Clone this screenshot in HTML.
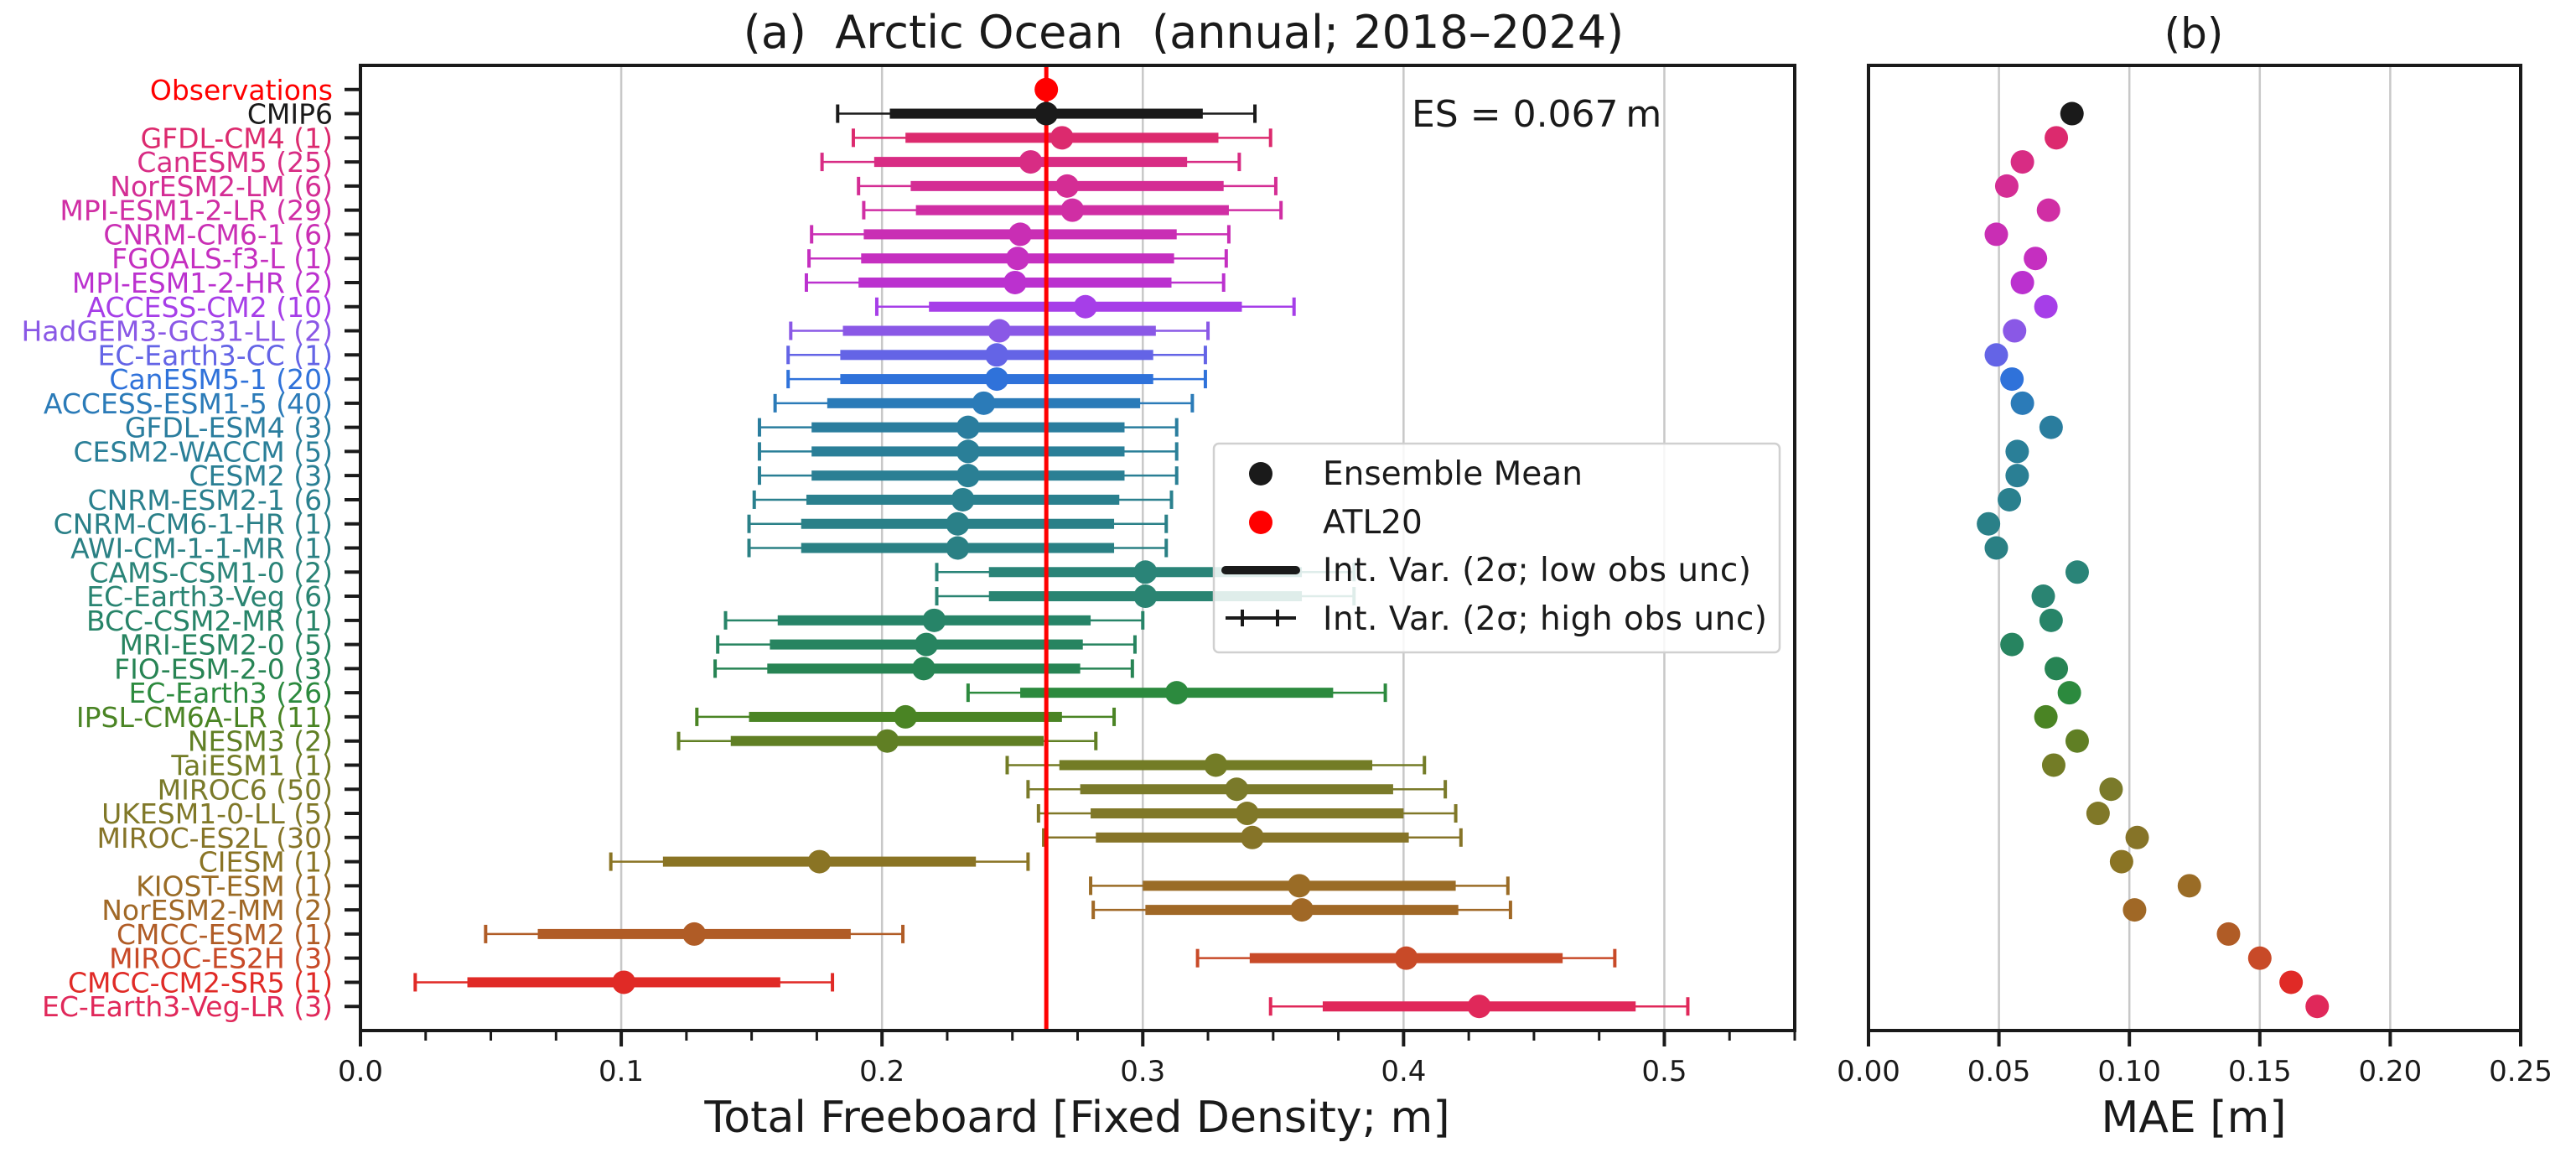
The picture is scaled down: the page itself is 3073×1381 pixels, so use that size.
<!DOCTYPE html>
<html><head><meta charset="utf-8"><style>
html,body{margin:0;padding:0;background:#fff;}
svg{display:block;font-family:"DejaVu Sans","Liberation Sans",sans-serif;}
</style></head><body>
<svg id="chart" width="3073" height="1381" viewBox="0 0 3073 1381" xmlns="http://www.w3.org/2000/svg">
<rect width="3073" height="1381" fill="#fff"/>
<g id="gA"></g>
<g id="gB"></g>
</svg>
<script>
const labels = ["Observations","CMIP6","GFDL-CM4 (1)","CanESM5 (25)","NorESM2-LM (6)","MPI-ESM1-2-LR (29)","CNRM-CM6-1 (6)","FGOALS-f3-L (1)","MPI-ESM1-2-HR (2)","ACCESS-CM2 (10)","HadGEM3-GC31-LL (2)","EC-Earth3-CC (1)","CanESM5-1 (20)","ACCESS-ESM1-5 (40)","GFDL-ESM4 (3)","CESM2-WACCM (5)","CESM2 (3)","CNRM-ESM2-1 (6)","CNRM-CM6-1-HR (1)","AWI-CM-1-1-MR (1)","CAMS-CSM1-0 (2)","EC-Earth3-Veg (6)","BCC-CSM2-MR (1)","MRI-ESM2-0 (5)","FIO-ESM-2-0 (3)","EC-Earth3 (26)","IPSL-CM6A-LR (11)","NESM3 (2)","TaiESM1 (1)","MIROC6 (50)","UKESM1-0-LL (5)","MIROC-ES2L (30)","CIESM (1)","KIOST-ESM (1)","NorESM2-MM (2)","CMCC-ESM2 (1)","MIROC-ES2H (3)","CMCC-CM2-SR5 (1)","EC-Earth3-Veg-LR (3)"];
const colors = ["#ff0000","#1a1a1a","#dc2a6e","#d82c84","#d42d94","#d02ea4","#c92eb4","#c52fc0","#bb31cf","#a63ee8","#8a58e6","#6464e6","#2f72da","#2b7bb8","#2a7d9e","#2a7f98","#2a7f94","#2a808e","#2a8088","#2a8084","#2a8478","#2a8472","#278468","#278460","#278454","#2c8a3e","#4a8424","#607f24","#737c26","#7a7a2a","#807828","#867428","#8a7424","#9a6c26","#a06826","#b05c26","#c84a28","#e02a26","#e0285a"];
const means = [0.263,0.263,0.269,0.257,0.271,0.273,0.253,0.252,0.251,0.278,0.245,0.244,0.244,0.239,0.233,0.233,0.233,0.231,0.229,0.229,0.301,0.301,0.220,0.217,0.216,0.313,0.209,0.202,0.328,0.336,0.340,0.342,0.176,0.360,0.361,0.128,0.401,0.101,0.429];
const lowUnc = [0,0.060,0.060,0.060,0.060,0.060,0.060,0.060,0.060,0.060,0.060,0.060,0.060,0.060,0.060,0.060,0.060,0.060,0.060,0.060,0.060,0.060,0.060,0.060,0.060,0.060,0.060,0.060,0.060,0.060,0.060,0.060,0.060,0.060,0.060,0.060,0.060,0.060,0.060];
const highUnc = [0,0.080,0.080,0.080,0.080,0.080,0.080,0.080,0.080,0.080,0.080,0.080,0.080,0.080,0.080,0.080,0.080,0.080,0.080,0.080,0.080,0.080,0.080,0.080,0.080,0.080,0.080,0.080,0.080,0.080,0.080,0.080,0.080,0.080,0.080,0.080,0.080,0.080,0.080];
const mae = [null,0.078,0.072,0.059,0.053,0.069,0.049,0.064,0.059,0.068,0.056,0.049,0.055,0.059,0.070,0.057,0.057,0.054,0.046,0.049,0.080,0.067,0.070,0.055,0.072,0.077,0.068,0.080,0.071,0.093,0.088,0.103,0.097,0.123,0.102,0.138,0.150,0.162,0.172];
const ticksA = [0.0,0.1,0.2,0.3,0.4,0.5];
const ticksB = [0.00,0.05,0.10,0.15,0.20,0.25];
const obsValue = 0.263;
const esText = "ES = 0.067\u2009m";

const NS="http://www.w3.org/2000/svg";
function mk(parent,tag,attrs,text){const el=document.createElementNS(NS,tag);for(const k in attrs)el.setAttribute(k,attrs[k]);if(text!==undefined)el.textContent=text;parent.appendChild(el);return el;}
const gA=document.getElementById('gA'), gB=document.getElementById('gB');
const yTop=78, yBot=1229, aL=430, aR=2141, bL=2229, bR=3007;
const xA=v=>aL+v/0.55*(aR-aL);
const xB=v=>bL+v/0.25*(bR-bL);
const yR=i=>yTop+(yBot-yTop)*(i+1)/(labels.length+1);

ticksA.forEach(t=>{if(t>0){const l=mk(gA,'line',{x1:xA(t),x2:xA(t),y1:yTop,y2:yBot,stroke:'#c8c8c8','stroke-width':2.5});

}});
ticksB.forEach(t=>{if(t>0&&t<0.25){const l=mk(gB,'line',{x1:xB(t),x2:xB(t),y1:yTop,y2:yBot,stroke:'#c8c8c8','stroke-width':2.5});

}});

labels.forEach((lab,i)=>{
  const y=yR(i), c=colors[i];
  const g=mk(gA,'g',{});
  
  
  if(i>0){
    const m=means[i];
    mk(g,'line',{x1:xA(m-highUnc[i]),x2:xA(m+highUnc[i]),y1:y,y2:y,stroke:c,'stroke-width':2.5});
    [m-highUnc[i],m+highUnc[i]].forEach(v=>mk(g,'line',{x1:xA(v),x2:xA(v),y1:y-11,y2:y+11,stroke:c,'stroke-width':4}));
    mk(g,'rect',{x:xA(m-lowUnc[i]),y:y-6,width:xA(m+lowUnc[i])-xA(m-lowUnc[i]),height:12,fill:c});
  }
  mk(gA,'line',{x1:411,x2:430,y1:y,y2:y,stroke:'#1a1a1a','stroke-width':4});
  const t=mk(gA,'text',{x:397,y:y+12,'text-anchor':'end','font-size':33,fill:c},lab);
  
  
});
const ol=mk(gA,'line',{x1:xA(obsValue),x2:xA(obsValue),y1:yTop,y2:yBot,stroke:'#ff0000','stroke-width':5});


labels.forEach((lab,i)=>{
  const c=mk(gA,'ellipse',{cx:xA(means[i]),cy:yR(i),rx:14,ry:14,fill:colors[i]});
  
  
});
labels.forEach((lab,i)=>{
  if(mae[i]===null)return;
  const c=mk(gB,'circle',{cx:xB(mae[i]),cy:yR(i),r:14,fill:colors[i]});
  
  
});
mk(gA,'rect',{x:aL,y:yTop,width:aR-aL,height:yBot-yTop,fill:'none',stroke:'#1a1a1a','stroke-width':4});
mk(gB,'rect',{x:bL,y:yTop,width:bR-bL,height:yBot-yTop,fill:'none',stroke:'#1a1a1a','stroke-width':4});
for(let k=0;k<=22;k++){const v=k*0.025;const maj=k%4===0;
  mk(gA,'line',{x1:xA(v),x2:xA(v),y1:yBot,y2:yBot+(maj?19:12),stroke:'#1a1a1a','stroke-width':maj?4:3});}
ticksA.forEach(t=>{const el=mk(gA,'text',{x:xA(t),y:1289,'text-anchor':'middle','font-size':34,fill:'#1a1a1a'},t.toFixed(1));

});
ticksB.forEach(t=>{mk(gB,'line',{x1:xB(t),x2:xB(t),y1:yBot,y2:yBot+19,stroke:'#1a1a1a','stroke-width':4});
const el=mk(gB,'text',{x:xB(t),y:1289,'text-anchor':'middle','font-size':34,fill:'#1a1a1a'},t.toFixed(2));

});
let tx=mk(gA,'text',{x:1412,y:57,'text-anchor':'middle','font-size':54,fill:'#1a1a1a',style:'white-space:pre'},"(a)  Arctic Ocean  (annual; 2018\u20132024)");


tx=mk(gB,'text',{x:2617,y:57,'text-anchor':'middle','font-size':50,fill:'#1a1a1a'},"(b)");


tx=mk(gA,'text',{x:1285,y:1350,'text-anchor':'middle','font-size':52,fill:'#1a1a1a'},"Total Freeboard [Fixed Density; m]");


tx=mk(gB,'text',{x:2617,y:1350,'text-anchor':'middle','font-size':52,fill:'#1a1a1a'},"MAE [m]");


tx=mk(gA,'text',{x:1684,y:151,'font-size':44,fill:'#1a1a1a'},esText);


const lg=mk(gA,'g',{});


mk(lg,'rect',{x:1448,y:529,width:675,height:249,rx:6,fill:'#ffffff','fill-opacity':0.85,stroke:'#d0d0d0','stroke-width':2.5});
mk(lg,'circle',{cx:1504,cy:565,r:14,fill:'#1a1a1a'});
mk(lg,'circle',{cx:1504,cy:623,r:14,fill:'#ff0000'});
mk(lg,'line',{x1:1462,x2:1546,y1:680,y2:680,stroke:'#1a1a1a','stroke-width':10,'stroke-linecap':'round'});
mk(lg,'line',{x1:1462,x2:1546,y1:737,y2:737,stroke:'#1a1a1a','stroke-width':4});
[1482,1524].forEach(x=>mk(lg,'line',{x1:x,x2:x,y1:727,y2:747,stroke:'#1a1a1a','stroke-width':4}));
[["Ensemble Mean",578,0],["ATL20",636,0],["Int. Var. (2\u03c3; low obs unc)",693,511],["Int. Var. (2\u03c3; high obs unc)",751,530]].forEach(([t,y,w])=>{
  const a={x:1578,y:y,'font-size':39,fill:'#1a1a1a'};
  if(w){a.textLength=w;a.lengthAdjust='spacing';}
  const le=mk(lg,'text',a,t);
  
  
});
</script>
</body></html>
